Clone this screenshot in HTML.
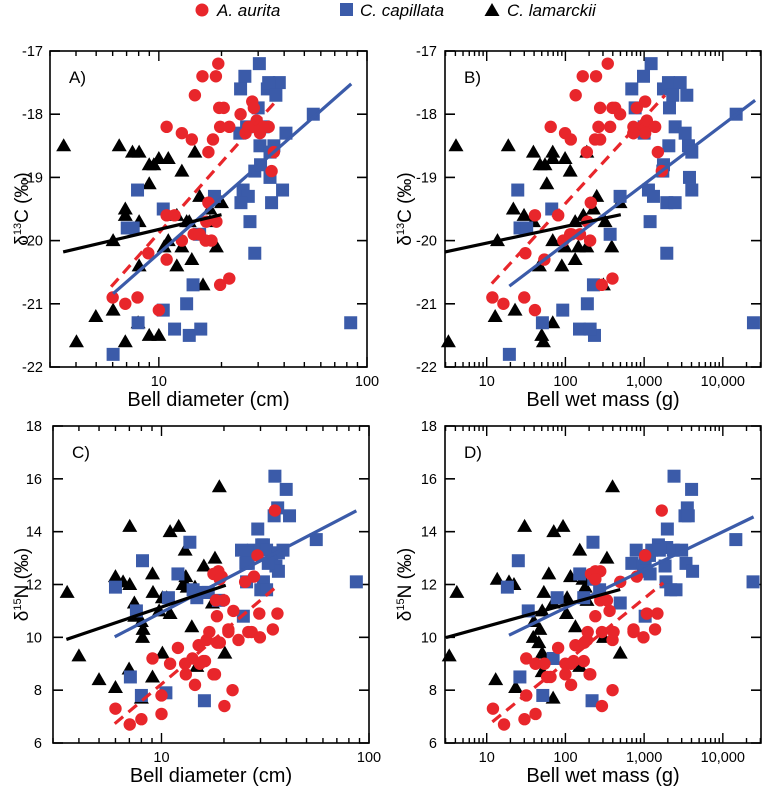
<!DOCTYPE html>
<html><head><meta charset="utf-8"><style>
html,body{margin:0;padding:0;background:#fff;}
svg{display:block;font-family:"Liberation Sans",sans-serif;}
</style></head><body>
<svg id="fig" width="762" height="789" viewBox="0 0 762 789" xmlns="http://www.w3.org/2000/svg">
<g>
  <circle cx="202" cy="10" r="6.5" fill="#e8262b"/>
  <text x="217" y="16" font-size="17" font-style="italic">A. aurita</text>
  <rect x="340" y="3" width="13" height="13" fill="#3b5ba9"/>
  <text x="360" y="16" font-size="17" font-style="italic">C. capillata</text>
  <polygon points="492,3 499.5,16 484.5,16" fill="#000"/>
  <text x="507" y="16" font-size="17" font-style="italic">C. lamarckii</text>
</g>
</svg>
<script>
// ---------- Panel A: d13C vs bell diameter ----------
const A_aurita = [[19.3,-17.2],[16.2,-17.4],[18.8,-17.4],[14.9,-17.7],[19.5,-17.9],[20.5,-17.9],[24.7,-18.0],[28.1,-17.8],[28.6,-17.9],[10.9,-18.2],[12.9,-18.3],[14.4,-18.4],[18.2,-18.4],[17.3,-18.6],[19.7,-18.2],[21.8,-18.2],[26.1,-18.3],[26.9,-18.2],[29.5,-18.1],[30.4,-18.2],[30.6,-18.3],[33.7,-18.2],[35.7,-18.6],[34.8,-18.9],[17.3,-19.4],[10.9,-19.6],[11.9,-19.6],[12.9,-20.0],[14.7,-19.9],[15.7,-19.9],[16.8,-20.0],[17.9,-20.0],[18.9,-19.7],[16.9,-19.7],[8.9,-20.2],[10.9,-20.3],[19.7,-20.7],[21.8,-20.6],[6.0,-20.9],[6.9,-21.0],[7.9,-20.9],[10,-21.1],[31.7,-18.2],[28.4,-18.2]];
const A_capillata = [[30.4,-17.2],[25.9,-17.4],[24.7,-17.6],[33.2,-17.6],[37.9,-17.5],[33.7,-17.5],[36.5,-17.7],[30.0,-17.9],[24.5,-18.3],[26.4,-18.2],[31.7,-18.2],[55.2,-18.0],[40.8,-18.3],[30.6,-18.5],[35.7,-18.5],[34.2,-18.6],[28.9,-18.9],[30.8,-18.8],[34.2,-19.0],[25.4,-19.2],[26.9,-19.3],[24.8,-19.4],[39.3,-19.2],[34.8,-19.4],[27.4,-19.7],[18.5,-19.3],[10.5,-19.5],[7.9,-19.2],[7.05,-19.8],[7.53,-19.8],[15.7,-19.9],[28.9,-20.2],[14.6,-20.7],[13.6,-21.0],[10.5,-21.1],[7.95,-21.3],[11.9,-21.4],[14.0,-21.5],[15.9,-21.4],[6.03,-21.8],[83.5,-21.3]];
const A_lamarckii = [[3.49,-18.5],[6.45,-18.5],[7.47,-18.6],[8.04,-18.6],[8.99,-18.8],[9.46,-18.8],[10.0,-18.7],[11.1,-18.7],[12.9,-18.9],[14.9,-18.6],[8.99,-19.1],[6.9,-19.5],[6.9,-19.6],[8.04,-19.7],[6.03,-20.0],[11.1,-20.0],[10.6,-20.1],[12.2,-19.6],[14.0,-19.7],[15.7,-19.3],[17.6,-19.5],[20.0,-19.4],[12.9,-20.1],[18.9,-20.1],[8.04,-20.4],[12.2,-20.4],[14.4,-20.3],[16.3,-20.7],[4.98,-21.2],[6.03,-21.1],[7.95,-21.3],[4.02,-21.6],[6.9,-21.6],[8.99,-21.5],[10.0,-21.5],[17.6,-19.7],[13.6,-19.7]];
const A_fitLamarckii = [[3.47,-20.18],[20.0,-19.59]];
const A_fitAurita = [[5.9,-20.73],[36.8,-17.78]];
const A_fitCapillata = [[6.03,-20.84],[84,-17.52]];

// ---------- Panel B: d13C vs bell wet mass ----------
const B_aurita = [[345,-17.2],[166,-17.4],[245,-17.4],[135,-17.7],[276,-17.9],[396,-17.9],[428,-17.9],[495,-18.0],[1031,-17.8],[807,-17.9],[65,-18.2],[99,-18.3],[117,-18.4],[238,-18.4],[276,-18.4],[263,-18.2],[370,-18.2],[731,-18.2],[731,-18.3],[1000,-18.2],[1082,-18.1],[1381,-18.2],[1494,-18.6],[1679,-18.9],[187,-18.6],[210,-19.4],[41,-19.6],[81,-19.6],[94,-20.0],[115,-19.9],[153,-19.9],[206,-20.0],[190,-19.7],[31,-20.2],[54,-20.3],[290,-20.7],[396,-20.6],[11.8,-20.9],[16.3,-21.0],[30,-20.9],[41,-21.1],[1031,-18.3],[731,-18.3],[120,-19.9]];
const B_capillata = [[1227,-17.2],[982,-17.4],[697,-17.6],[769,-17.9],[1000,-18.3],[1000,-18.2],[1762,-17.6],[2038,-17.5],[2870,-17.5],[2313,-17.7],[3487,-17.7],[2100,-17.9],[2478,-18.2],[3320,-18.3],[3660,-18.5],[4035,-18.6],[2060,-18.5],[1762,-18.8],[1727,-18.9],[3770,-19.0],[4035,-19.2],[1135,-19.2],[1315,-19.3],[1191,-19.7],[1941,-19.4],[2478,-19.4],[1941,-20.2],[14770,-18.0],[24500,-21.3],[495,-19.3],[370,-19.9],[67,-19.5],[24.8,-19.2],[26.5,-19.8],[32.2,-19.8],[227,-20.7],[190,-21.0],[92.5,-21.1],[51,-21.3],[151,-21.4],[234,-21.5],[206,-21.4],[19.4,-21.8]];
const B_lamarckii = [[4.07,-18.5],[18.8,-18.5],[39.2,-18.6],[69,-18.6],[69,-18.7],[99,-18.7],[47.6,-18.8],[55,-18.8],[115,-18.9],[58,-19.1],[187,-18.6],[21.8,-19.5],[29.8,-19.6],[39.2,-19.7],[13.7,-20.0],[69,-20.0],[99,-20.1],[133,-19.7],[169,-19.6],[250,-19.3],[227,-19.5],[319,-19.7],[146,-20.1],[187,-20.1],[388,-20.1],[46.7,-20.4],[90,-20.4],[133,-20.3],[304,-20.7],[12.8,-21.2],[22.9,-21.1],[69,-21.3],[3.26,-21.6],[50,-21.5],[52.5,-21.6],[495,-19.4]];
const B_fitLamarckii = [[2.96,-20.18],[505,-19.59]];
const B_fitAurita = [[11.6,-20.68],[1840,-17.70]];
const B_fitCapillata = [[19.4,-20.72],[25700,-17.78]];

// ---------- Panel C: d15N vs bell diameter ----------
const C_aurita = [[6.0,7.3],[7.03,6.7],[8.0,6.9],[10,7.1],[10,7.8],[9.05,9.2],[11,9.0],[12,9.6],[13,9.0],[13.1,8.6],[14.1,9.2],[15.3,9.0],[15.9,9.1],[14.5,8.2],[15.1,9.7],[16.2,9.1],[17.8,8.6],[18.1,8.6],[16.5,9.9],[17,10.2],[18.5,9.8],[19.1,9.8],[21,10.3],[22.2,11.0],[20,11.4],[21,10.2],[18.5,10.8],[18.3,11.4],[19.5,12.3],[17.8,12.4],[18.8,12.5],[20.1,7.4],[22,8.0],[23.5,9.9],[26.2,10.2],[27.2,10.2],[29.8,10.0],[29.6,10.9],[34.4,10.3],[36.2,10.9],[25.3,12.1],[27.9,12.3],[29,13.1],[35.2,14.8],[19.1,12.2]];
const C_capillata = [[35.2,16.1],[39.9,15.6],[36.3,14.9],[34.9,14.6],[41.4,14.6],[29.1,14.1],[30.4,13.5],[31,13.5],[27.7,13.3],[24.3,13.3],[25.7,13.2],[26.2,12.8],[25.5,12.8],[32.1,13.3],[34,13.1],[36.6,13.2],[38.5,13.3],[35.6,12.7],[36.6,12.5],[32.7,12.8],[31,12.1],[30.1,11.8],[32.1,11.8],[25.7,12.1],[55.7,13.7],[86.9,12.1],[24.8,10.8],[13.7,13.6],[12,12.4],[14.2,11.8],[14.8,11.5],[16.1,11.7],[16.8,11.7],[18.8,11.4],[10.8,11.5],[8.1,12.9],[6.0,11.9],[7.57,11.0],[10.5,7.9],[7.08,8.5],[8,7.8],[16.1,7.6]];
const C_lamarckii = [[3.51,11.7],[4.0,9.3],[5.0,8.4],[6.0,8.1],[6.0,12.3],[6.53,12.1],[7.03,12.0],[7.03,14.2],[7.4,11.3],[8.0,10.6],[8.15,10.3],[8.1,10.0],[9.05,12.4],[9.1,11.7],[9.74,11.0],[10.1,11.5],[10.6,11.5],[11,14.0],[12.1,14.2],[11,10.9],[13,13.3],[13.1,12.3],[12.7,12.0],[13.3,11.9],[14.5,11.9],[14,10.4],[14.8,8.9],[16,12.7],[17.6,11.3],[18.1,13.0],[19,15.7],[20.2,9.4],[8,7.7],[6.98,8.8],[9.05,8.5],[10.1,9.4],[7.43,10.8]];
const C_fitLamarckii = [[3.48,9.92],[20.4,11.97]];
const C_fitAurita = [[5.95,6.73],[36.6,11.98]];
const C_fitCapillata = [[5.95,10.02],[86.9,14.79]];

// ---------- Panel D: d15N vs bell wet mass ----------
const D_aurita = [[12,7.3],[16.6,6.7],[30.2,6.9],[41.7,7.1],[31.8,7.8],[31.8,9.2],[41.7,9.0],[54.2,9.0],[80.8,9.6],[100,9.0],[100,8.6],[118,9.0],[118,8.2],[127,9.1],[134,9.7],[171,9.1],[188,9.9],[174,9.8],[203,8.6],[207,8.6],[192,10.2],[240,12.5],[211,12.4],[277,12.5],[240,12.2],[240,10.8],[277,11.4],[291,10.2],[337,11.4],[364,11.0],[397,9.9],[409,10.2],[291,7.4],[397,8.0],[497,12.1],[733,10.3],[733,10.2],[981,10.0],[1031,13.1],[1082,10.9],[1377,10.3],[1475,10.9],[1675,14.8],[807,12.3],[64.6,8.5],[58.6,8.5]];
const D_capillata = [[2398,16.1],[4009,15.6],[3540,14.9],[3305,14.6],[3640,14.6],[1973,14.1],[1251,13.3],[1519,13.5],[1563,13.3],[1936,13.4],[2350,13.3],[2998,13.3],[698,12.8],[1031,12.8],[793,13.3],[1169,13.1],[981,12.7],[1031,12.5],[1845,12.7],[3404,12.8],[4128,12.5],[1191,12.4],[1898,12.1],[2176,11.8],[2541,11.8],[14630,13.7],[24200,12.1],[1031,10.8],[497,11.3],[224,13.6],[152,12.4],[229,12.2],[272,11.8],[171,11.5],[78.5,11.5],[25.2,12.9],[18.3,11.9],[33.7,11.0],[69.8,9.2],[26.4,8.5],[51.6,7.8],[218,7.6]];
const D_lamarckii = [[3.34,9.3],[4.17,11.7],[13.6,12.2],[19.2,12.1],[22.2,12.0],[30.3,14.2],[39.7,10.6],[47.3,10.3],[39,10.0],[50.7,11.0],[53.2,11.7],[61.5,12.4],[71.1,14.0],[69.8,11.3],[93.3,14.2],[105,11.5],[103,10.9],[116,12.3],[134,10.4],[152,13.3],[167,12.2],[179,11.9],[188,11.4],[337,13.0],[397,15.7],[497,9.4],[13,8.4],[23.3,8.1],[50.7,9.4],[69.8,7.7],[50.7,8.7],[152,8.9],[305,10.0],[45.9,9.8]];
const D_fitLamarckii = [[3.03,9.99],[497,11.81]];
const D_fitAurita = [[11.8,6.8],[1750,12.06]];
const D_fitCapillata = [[19.2,10.08],[24600,14.56]];

// tick labels
const yTicksC13 = [-17,-18,-19,-20,-21,-22];
const yTicksN15 = [6,8,10,12,14,16,18];
const xTicksDiam = [10,100];
const xTickLabelsDiam = ["10","100"];
const xTicksMass = [10,100,1000,10000];
const xTickLabelsMass = ["10","100","1,000","10,000"];

const NS = "http://www.w3.org/2000/svg";
const svg = document.getElementById("fig");
const RED = "#e8262b", BLUE = "#3b5ba9", BLACK = "#000";

function mk(tag, attrs, parent){
  const e = document.createElementNS(NS, tag);
  for (const k in attrs) e.setAttribute(k, attrs[k]);
  parent.appendChild(e);
  return e;
}

function panel(cfg){
  const g = mk("g", {}, svg);
  
  
  const L=cfg.left,R=cfg.right,T=cfg.top,B=cfg.bottom;
  const xs = v => L + (Math.log10(v)-cfg.xmin)/(cfg.xmax-cfg.xmin)*(R-L);
  const ys = v => B - (v-cfg.ymin)/(cfg.ymax-cfg.ymin)*(B-T);

  // frame
  const fr = mk("rect",{x:L,y:T,width:R-L,height:B-T,fill:"none",stroke:"#000","stroke-width":1.6},g);
  
  

  // y ticks
  const yAx = mk("g",{},g);
  
  
  cfg.yTicks.forEach(t=>{
    const y = ys(t);
    mk("line",{x1:L,x2:L+10,y1:y,y2:y,stroke:"#000","stroke-width":1.6},yAx);
    mk("line",{x1:R,x2:R-10,y1:y,y2:y,stroke:"#000","stroke-width":1.6},yAx);
    const tx = mk("text",{x:cfg.yLabelX,y:y+5,"text-anchor":"end","font-size":14.5},yAx);
    tx.textContent = String(t);
    
    
  });
  // x ticks (major + minor)
  const xAx = mk("g",{},g);
  
  
  for (let d=Math.floor(cfg.xmin); d<=Math.ceil(cfg.xmax); d++){
    for (let m=1;m<10;m++){
      const lv = d + Math.log10(m);
      if (lv<cfg.xmin || lv>cfg.xmax) continue;
      const x = L + (lv-cfg.xmin)/(cfg.xmax-cfg.xmin)*(R-L);
      const len = m===1 ? 10 : 5;
      mk("line",{x1:x,x2:x,y1:B,y2:B-len,stroke:"#000","stroke-width":1.4},xAx);
      mk("line",{x1:x,x2:x,y1:T,y2:T+len,stroke:"#000","stroke-width":1.4},xAx);
    }
  }
  cfg.xTicks.forEach((t,i)=>{
    const tx = mk("text",{x:xs(t),y:B+19,"text-anchor":"middle","font-size":14.5},xAx);
    tx.textContent = cfg.xTickLabels[i];
    
    
  });
  if (cfg.xEdgeLabel){
    const tx = mk("text",{x:R,y:B+19,"text-anchor":"middle","font-size":14.5},xAx);
    tx.textContent = cfg.xEdgeLabel;
    
    
  }
  // titles
  const xt = mk("text",{x:(L+R)/2,y:B+39,"text-anchor":"middle","font-size":20},g);
  xt.textContent = cfg.xTitle;
  
  
  const yt = mk("text",{x:0,y:0,"text-anchor":"middle","font-size":19,transform:`translate(${cfg.yTitleX},${(T+B)/2}) rotate(-90)`},g);
  yt.innerHTML = cfg.yTitle;
  
  
  const pl = mk("text",{x:L+19,y:T+32,"font-size":17},g);
  pl.textContent = cfg.label;
  
  

  // points: lamarckii, capillata, aurita order approx
  const pts = mk("g",{},g);
  
  
  cfg.lamarckii.forEach(p=>{
    const x=xs(p[0]), y=ys(p[1]);
    const e = mk("polygon",{points:`${x},${y-7.5} ${x+7.5},${y+5.5} ${x-7.5},${y+5.5}`,fill:BLACK},pts);
    
    
  });
  cfg.capillata.forEach(p=>{
    const x=xs(p[0]), y=ys(p[1]);
    const e = mk("rect",{x:x-6.5,y:y-6.5,width:13,height:13,fill:BLUE},pts);
    
    
  });
  cfg.aurita.forEach(p=>{
    const e = mk("circle",{cx:xs(p[0]),cy:ys(p[1]),r:6.2,fill:RED},pts);
    
    
  });
  // fit lines
  const fl = (f,col,dash,nm)=>{
    const e = mk("line",{x1:xs(f[0][0]),y1:ys(f[0][1]),x2:xs(f[1][0]),y2:ys(f[1][1]),stroke:col,"stroke-width":3.2},g);
    if (dash) e.setAttribute("stroke-dasharray", dash);
    
    
  };
  fl(cfg.fitCapillata, BLUE, null, 'fit-line-capillata');
  fl(cfg.fitAurita, RED, "11,7", 'fit-line-aurita');
  fl(cfg.fitLamarckii, BLACK, null, 'fit-line-lamarckii');
}

const c13 = 'δ<tspan font-size="11" dy="-7">13</tspan><tspan dy="7">C (‰)</tspan>';
const n15 = 'δ<tspan font-size="11" dy="-7">15</tspan><tspan dy="7">N (‰)</tspan>';
const diamMin = Math.log10(3.0), diamMax = 2;
const massMin = 0.47, massMax = 4.485;

panel({name:"panel-a",label:"A)",left:50,right:367,top:51,bottom:367,xmin:diamMin,xmax:diamMax,ymin:-22,ymax:-17,
  yTicks:yTicksC13,yLabelX:43,yTitleX:28,xTicks:xTicksDiam,xTickLabels:["10",""],xEdgeLabel:"100",xTitle:"Bell diameter (cm)",yTitle:c13,
  aurita:A_aurita,capillata:A_capillata,lamarckii:A_lamarckii,fitAurita:A_fitAurita,fitCapillata:A_fitCapillata,fitLamarckii:A_fitLamarckii});
panel({name:"panel-b",label:"B)",left:445,right:761,top:51,bottom:367,xmin:massMin,xmax:massMax,ymin:-22,ymax:-17,
  yTicks:yTicksC13,yLabelX:437,yTitleX:411,xTicks:xTicksMass,xTickLabels:xTickLabelsMass,xTitle:"Bell wet mass (g)",yTitle:c13,
  aurita:B_aurita,capillata:B_capillata,lamarckii:B_lamarckii,fitAurita:B_fitAurita,fitCapillata:B_fitCapillata,fitLamarckii:B_fitLamarckii});
panel({name:"panel-c",label:"C)",left:53,right:369,top:426,bottom:743,xmin:diamMin,xmax:diamMax,ymin:6,ymax:18,
  yTicks:yTicksN15,yLabelX:42,yTitleX:28,xTicks:xTicksDiam,xTickLabels:["10",""],xEdgeLabel:"100",xTitle:"Bell diameter (cm)",yTitle:n15,
  aurita:C_aurita,capillata:C_capillata,lamarckii:C_lamarckii,fitAurita:C_fitAurita,fitCapillata:C_fitCapillata,fitLamarckii:C_fitLamarckii});
panel({name:"panel-d",label:"D)",left:445,right:761,top:426,bottom:743,xmin:massMin,xmax:massMax,ymin:6,ymax:18,
  yTicks:yTicksN15,yLabelX:437,yTitleX:411,xTicks:xTicksMass,xTickLabels:xTickLabelsMass,xTitle:"Bell wet mass (g)",yTitle:n15,
  aurita:D_aurita,capillata:D_capillata,lamarckii:D_lamarckii,fitAurita:D_fitAurita,fitCapillata:D_fitCapillata,fitLamarckii:D_fitLamarckii});
</script>
</body></html>
